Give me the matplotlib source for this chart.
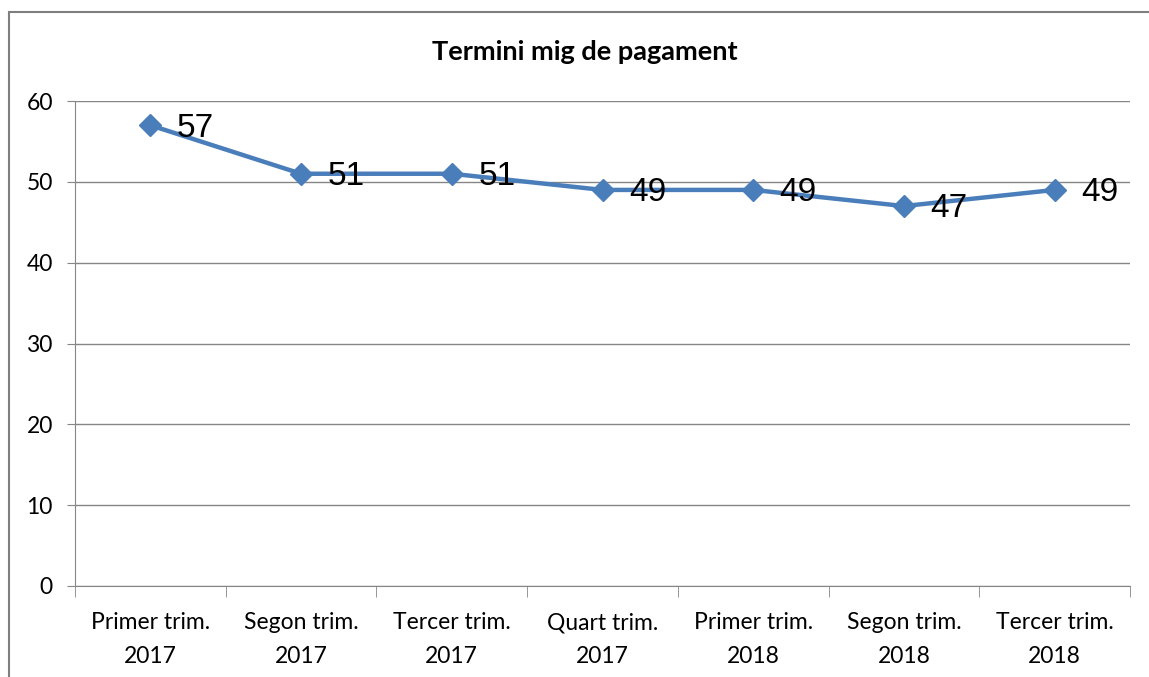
import matplotlib.pyplot as plt
from matplotlib.patches import Rectangle

categories = ["Primer trim.\n2017", "Segon trim.\n2017", "Tercer trim.\n2017",
              "Quart trim.\n2017", "Primer trim.\n2018", "Segon trim.\n2018",
              "Tercer trim.\n2018"]
values = [57, 51, 51, 49, 49, 47, 49]
yticks = [0, 10, 20, 30, 40, 50, 60]

line_color = "#4A7EBB"
grid_color = "#868686"

fig = plt.figure(figsize=(11.49, 6.77), dpi=100)
ax = fig.add_axes([75 / 1149, 1 - 586 / 677, (1130 - 75) / 1149, (586 - 101) / 677])

# outer chart border (only left/top visible in the original)
fig.patches.append(Rectangle((9 / 1149, -0.1), 1.2, 1 - 12 / 677 + 0.1,
                             transform=fig.transFigure, fill=False,
                             edgecolor="#7f7f7f", linewidth=1.5))

x = list(range(len(values)))
ax.plot(x, values, color=line_color, linewidth=3.2, marker="D",
        markersize=11.5, markeredgecolor=line_color, zorder=3)

for xi, v in zip(x, values):
    ax.annotate(str(v), (xi, v), xytext=(19, -2), textcoords="offset points",
                ha="left", va="center", fontsize=24, family="Liberation Sans",
                color="black", zorder=4)

ax.set_xlim(-0.5, len(values) - 0.5)
ax.set_ylim(0, 60)
ax.set_yticks(yticks)
ax.set_yticklabels([str(t) for t in yticks], fontsize=16.5, family="Lato")
ax.yaxis.grid(True, color=grid_color, linewidth=1)
ax.set_axisbelow(True)

# category labels at centers, tick marks at boundaries
ax.set_xticks(x)
ax.set_xticklabels(categories, fontsize=16.5, family="Lato", linespacing=1.75)
ax.set_xticks([i - 0.5 for i in range(len(values) + 1)], minor=True)
ax.tick_params(axis="x", which="major", length=0, pad=19)
ax.tick_params(axis="x", which="minor", length=8, color=grid_color, direction="out")
ax.tick_params(axis="y", length=6, color=grid_color, pad=10)

for s in ["top", "right"]:
    ax.spines[s].set_visible(False)
ax.spines["left"].set_color(grid_color)
ax.spines["bottom"].set_color(grid_color)

fig.text(585 / 1149, 1 - 52 / 677, "Termini mig de pagament", ha="center",
         va="center", fontsize=19.5, fontweight="bold", family="Lato")

fig.savefig("out.png", dpi=100)
